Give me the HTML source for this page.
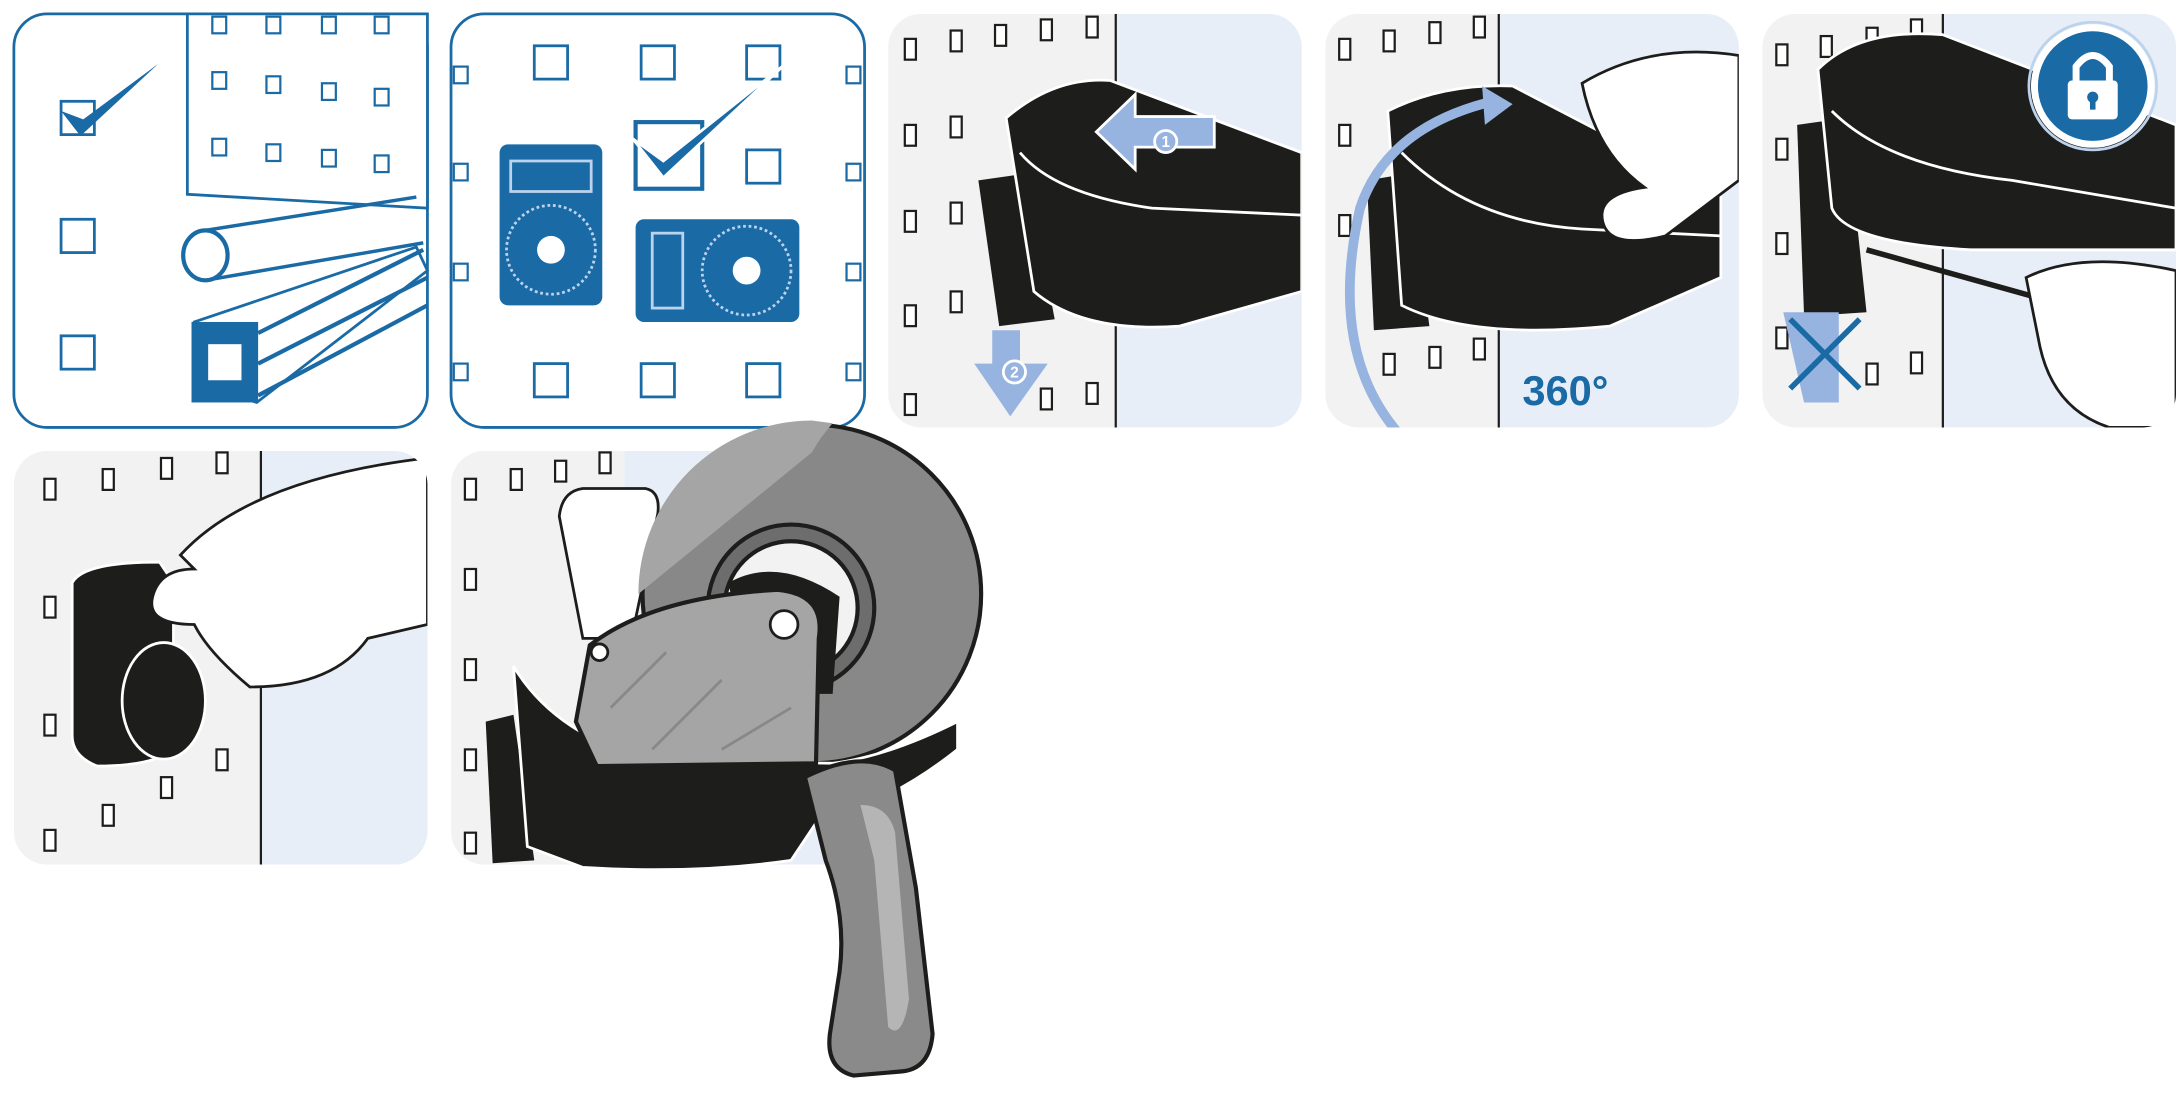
<!DOCTYPE html>
<html><head><meta charset="utf-8"><style>
html,body{margin:0;padding:0;background:#fff;width:2176px;height:1094px;overflow:hidden}
svg{display:block}
text{font-family:"Liberation Sans",sans-serif}
</style></head><body>
<svg width="2176" height="1094" viewBox="0 0 1568 788.3" preserveAspectRatio="none" xmlns="http://www.w3.org/2000/svg">
<defs>
<g id="hole"><rect x="0" y="0" width="8" height="15" fill="#fff" stroke="#1d1d1b" stroke-width="1.6"/></g>
<g id="bhole"><rect x="0" y="0" width="10" height="12" fill="#fff" stroke="#1a6aa6" stroke-width="1.6"/></g>
<g id="sq"><rect x="0" y="0" width="24" height="24" fill="#fff" stroke="#1a6aa6" stroke-width="2"/></g>
</defs>

<!-- Panel 1 -->
<rect x="10" y="10" width="298" height="298" rx="24" fill="#fff" stroke="#1a6aa6" stroke-width="2"/>
<path d="M135 10 L308 10 L308 150 L135 140 Z" fill="#fff" stroke="#1a6aa6" stroke-width="2"/>
<g>
<use href="#bhole" x="153" y="12"/><use href="#bhole" x="192" y="12"/><use href="#bhole" x="232" y="12"/><use href="#bhole" x="270" y="12"/>
<use href="#bhole" x="153" y="52"/><use href="#bhole" x="192" y="55"/><use href="#bhole" x="232" y="60"/><use href="#bhole" x="270" y="64"/>
<use href="#bhole" x="153" y="100"/><use href="#bhole" x="192" y="104"/><use href="#bhole" x="232" y="108"/><use href="#bhole" x="270" y="112"/>
</g>
<use href="#sq" x="44" y="73"/><use href="#sq" x="44" y="158"/><use href="#sq" x="44" y="242"/>
<path d="M44 80 L58 98 L114 46 L60 86 Z" fill="#1a6aa6"/>
<ellipse cx="148" cy="184" rx="16" ry="18" fill="#fff" stroke="#1a6aa6" stroke-width="3"/>
<path d="M148 166 L300 142 M148 202 L305 175" stroke="#1a6aa6" stroke-width="2.5" fill="none"/>
<path d="M140 232 L300 178 L308 195 L185 290 L140 275 Z" fill="#fff" stroke="#1a6aa6" stroke-width="2"/>
<rect x="138" y="232" width="48" height="58" fill="#1a6aa6"/>
<rect x="150" y="248" width="24" height="26" fill="#fff"/>
<path d="M186 240 L305 180 M186 262 L308 200 M186 285 L308 220" stroke="#1a6aa6" stroke-width="3"/>

<!-- Panel 2 -->
<rect x="325" y="10" width="298" height="298" rx="24" fill="#fff" stroke="#1a6aa6" stroke-width="2"/>
<use href="#sq" x="385" y="33"/><use href="#sq" x="462" y="33"/><use href="#sq" x="538" y="33"/>
<use href="#sq" x="538" y="108"/>
<use href="#sq" x="385" y="262"/><use href="#sq" x="462" y="262"/><use href="#sq" x="538" y="262"/>
<use href="#bhole" x="327" y="48"/><use href="#bhole" x="327" y="118"/><use href="#bhole" x="327" y="190"/><use href="#bhole" x="327" y="262"/>
<use href="#bhole" x="610" y="48"/><use href="#bhole" x="610" y="118"/><use href="#bhole" x="610" y="190"/><use href="#bhole" x="610" y="262"/>
<rect x="360" y="104" width="74" height="116" rx="6" fill="#1a6aa6"/>
<circle cx="397" cy="180" r="32" fill="#1a6aa6" stroke="#bcd3ee" stroke-width="2" stroke-dasharray="2 2"/>
<circle cx="397" cy="180" r="10" fill="#fff"/>
<rect x="368" y="116" width="58" height="22" fill="none" stroke="#bcd3ee" stroke-width="2"/>
<rect x="458" y="158" width="118" height="74" rx="6" fill="#1a6aa6"/>
<circle cx="538" cy="195" r="32" fill="#1a6aa6" stroke="#bcd3ee" stroke-width="2" stroke-dasharray="2 2"/>
<circle cx="538" cy="195" r="10" fill="#fff"/>
<rect x="470" y="168" width="22" height="54" fill="none" stroke="#bcd3ee" stroke-width="2"/>
<rect x="458" y="88" width="48" height="48" fill="#fff" stroke="#1a6aa6" stroke-width="3"/>
<path d="M456 100 L478 128 L566 46 L478 116 Z" fill="#1a6aa6" stroke="#fff" stroke-width="2"/>

<!-- Panel 3 -->
<clipPath id="c3"><rect x="640" y="10" width="298" height="298" rx="24"/></clipPath>
<g clip-path="url(#c3)">
<rect x="640" y="10" width="298" height="298" fill="#f2f2f2"/>
<rect x="804" y="10" width="140" height="298" fill="#e8eef8"/>
<line x1="804" y1="10" x2="804" y2="308" stroke="#1d1d1b" stroke-width="1.6"/>
<use href="#hole" x="652" y="28"/><use href="#hole" x="685" y="22"/><use href="#hole" x="717" y="18"/><use href="#hole" x="750" y="14"/><use href="#hole" x="783" y="12"/>
<use href="#hole" x="652" y="90"/><use href="#hole" x="685" y="84"/><use href="#hole" x="652" y="152"/><use href="#hole" x="685" y="146"/>
<use href="#hole" x="652" y="220"/><use href="#hole" x="685" y="210"/><use href="#hole" x="652" y="284"/><use href="#hole" x="750" y="280"/><use href="#hole" x="783" y="276"/>
<path d="M705 130 L740 125 L760 230 L720 235 Z" fill="#1d1d1b"/>
<path d="M725 85 Q760 55 800 58 L938 110 L938 210 L850 235 Q780 240 745 210 Z" fill="#1d1d1b" stroke="#fff" stroke-width="2"/>
<path d="M735 110 Q760 140 830 150 L938 155" stroke="#fff" stroke-width="2" fill="none"/>
<path d="M790 95 L818 68 L818 84 L875 84 L875 106 L818 106 L818 122 Z" fill="#97b4e0" stroke="#fff" stroke-width="2"/>
<circle cx="840" cy="102" r="8" fill="#97b4e0" stroke="#fff" stroke-width="2"/><text x="840" y="106" font-size="11" font-weight="bold" fill="#fff" text-anchor="middle">1</text>
<path d="M715 238 L735 238 L735 262 L755 262 L728 300 L702 262 L715 262 Z" fill="#97b4e0"/>
<circle cx="731" cy="268" r="8" fill="#97b4e0" stroke="#fff" stroke-width="2"/><text x="731" y="272" font-size="11" font-weight="bold" fill="#fff" text-anchor="middle">2</text>
</g>

<!-- Panel 4 -->
<clipPath id="c4"><rect x="955" y="10" width="298" height="298" rx="24"/></clipPath>
<g clip-path="url(#c4)">
<rect x="955" y="10" width="298" height="298" fill="#f2f2f2"/>
<rect x="1080" y="10" width="180" height="298" fill="#e8eef8"/>
<line x1="1080" y1="10" x2="1080" y2="308" stroke="#1d1d1b" stroke-width="1.6"/>
<use href="#hole" x="965" y="28"/><use href="#hole" x="997" y="22"/><use href="#hole" x="1030" y="16"/><use href="#hole" x="1062" y="12"/>
<use href="#hole" x="965" y="90"/><use href="#hole" x="965" y="155"/><use href="#hole" x="997" y="255"/><use href="#hole" x="1030" y="250"/><use href="#hole" x="1062" y="244"/>
<path d="M985 130 L1015 125 L1030 235 L990 238 Z" fill="#1d1d1b"/>
<path d="M1000 80 Q1040 60 1090 62 L1240 140 L1240 200 L1160 235 Q1060 245 1010 220 Z" fill="#1d1d1b" stroke="#fff" stroke-width="2"/>
<path d="M1010 110 Q1060 160 1140 165 L1240 170" stroke="#fff" stroke-width="2" fill="none"/>
<path d="M1140 60 Q1190 30 1253 40 L1253 130 L1200 170 Q1160 180 1155 160 Q1150 140 1185 135 Q1150 110 1140 60 Z" fill="#fff" stroke="#1d1d1b" stroke-width="2"/>
<path d="M1015 320 Q955 260 980 150 Q1000 90 1080 72" stroke="#97b4e0" stroke-width="7" fill="none"/>
<path d="M1068 62 L1090 75 L1070 90 Z" fill="#97b4e0"/>
<path d="M1005 314 L1025 325 L1008 332 Z" fill="#97b4e0"/>
<text x="1097" y="292" font-size="30" font-weight="bold" fill="#1a6aa6">360°</text>
</g>

<!-- Panel 5 -->
<clipPath id="c5"><rect x="1270" y="10" width="298" height="298" rx="24"/></clipPath>
<g clip-path="url(#c5)">
<rect x="1270" y="10" width="298" height="298" fill="#f2f2f2"/>
<rect x="1400" y="10" width="170" height="298" fill="#e8eef8"/>
<line x1="1400" y1="10" x2="1400" y2="308" stroke="#1d1d1b" stroke-width="1.6"/>
<use href="#hole" x="1280" y="32"/><use href="#hole" x="1312" y="26"/><use href="#hole" x="1345" y="20"/><use href="#hole" x="1377" y="14"/>
<use href="#hole" x="1280" y="100"/><use href="#hole" x="1280" y="168"/><use href="#hole" x="1280" y="236"/><use href="#hole" x="1345" y="262"/><use href="#hole" x="1377" y="254"/>
<path d="M1295 90 L1330 85 L1345 225 L1300 228 Z" fill="#1d1d1b"/>
<path d="M1310 50 Q1340 20 1400 25 L1568 90 L1568 180 L1420 180 Q1330 175 1320 150 Z" fill="#1d1d1b" stroke="#fff" stroke-width="2"/>
<path d="M1320 80 Q1360 120 1450 130 L1568 150" stroke="#fff" stroke-width="2" fill="none"/>
<path d="M1345 180 L1470 215" stroke="#1d1d1b" stroke-width="4"/>
<path d="M1460 200 Q1500 180 1568 195 L1568 308 L1520 308 Q1480 295 1470 250 Z" fill="#fff" stroke="#1d1d1b" stroke-width="2"/>
<path d="M1285 225 L1325 225 L1325 290 L1300 290 Z" fill="#97b4e0"/>
<path d="M1290 230 L1340 280 M1340 230 L1290 280" stroke="#1a6aa6" stroke-width="4"/>
<circle cx="1508" cy="62" r="42" fill="#1a6aa6" stroke="#fff" stroke-width="5"/>
<circle cx="1508" cy="62" r="46" fill="none" stroke="#bcd3ee" stroke-width="2"/>
<rect x="1490" y="58" width="36" height="28" rx="3" fill="#fff"/>
<path d="M1496 58 L1496 48 Q1508 32 1520 48 L1520 58" stroke="#fff" stroke-width="5" fill="none"/>
<circle cx="1508" cy="70" r="4" fill="#1a6aa6"/><rect x="1506" y="70" width="4" height="9" fill="#1a6aa6"/>
</g>

<!-- Panel 6 -->
<clipPath id="c6"><rect x="10" y="325" width="298" height="298" rx="24"/></clipPath>
<g clip-path="url(#c6)">
<rect x="10" y="325" width="298" height="298" fill="#f2f2f2"/>
<rect x="188" y="325" width="130" height="298" fill="#e8eef8"/>
<line x1="188" y1="325" x2="188" y2="623" stroke="#1d1d1b" stroke-width="1.6"/>
<use href="#hole" x="32" y="345"/><use href="#hole" x="74" y="338"/><use href="#hole" x="116" y="330"/><use href="#hole" x="156" y="326"/>
<use href="#hole" x="32" y="430"/><use href="#hole" x="32" y="515"/><use href="#hole" x="32" y="598"/><use href="#hole" x="74" y="580"/><use href="#hole" x="116" y="560"/><use href="#hole" x="156" y="540"/>
<path d="M52 420 Q60 405 115 405 L125 420 L125 540 Q110 552 70 552 Q52 545 52 530 Z" fill="#1d1d1b" stroke="#fff" stroke-width="2"/>
<ellipse cx="118" cy="505" rx="30" ry="42" fill="#1d1d1b" stroke="#fff" stroke-width="2"/>
<path d="M130 400 Q180 345 308 330 L308 450 L265 460 Q240 495 180 495 Q150 470 140 450 Q105 450 110 430 Q115 410 140 410 Z" fill="#fff" stroke="#1d1d1b" stroke-width="2"/>
</g>

<!-- Panel 7 -->
<clipPath id="c7"><rect x="325" y="325" width="298" height="298" rx="24"/></clipPath>
<g clip-path="url(#c7)">
<rect x="325" y="325" width="298" height="298" fill="#f2f2f2"/>
<rect x="450" y="325" width="180" height="298" fill="#e8eef8"/>
<use href="#hole" x="335" y="345"/><use href="#hole" x="368" y="338"/><use href="#hole" x="400" y="332"/><use href="#hole" x="432" y="326"/>
<use href="#hole" x="335" y="410"/><use href="#hole" x="335" y="475"/><use href="#hole" x="335" y="540"/><use href="#hole" x="335" y="600"/>
</g>
<path d="M403 372 Q405 354 420 352 L465 352 Q476 354 474 370 L455 460 L420 460 Z" fill="#fff" stroke="#1d1d1b" stroke-width="2"/>
<circle cx="585" cy="428" r="122" fill="#888" stroke="#1d1d1b" stroke-width="3"/>
<path d="M460 428 A125 125 0 0 1 585 303 L600 305 A122 122 0 0 0 585 326" fill="#a5a5a5"/>
<circle cx="570" cy="438" r="60" fill="#6d6d6d" stroke="#1d1d1b" stroke-width="3"/>
<circle cx="570" cy="438" r="48" fill="#f2f2f2" stroke="#1d1d1b" stroke-width="3"/>
<path d="M525 420 Q560 400 605 430 L600 500 L540 500 Z" fill="#1d1d1b"/>
<path d="M350 520 L370 515 L385 620 L355 622 Z" fill="#1d1d1b"/>
<path d="M370 480 Q400 530 470 548 L600 550 Q640 545 690 520 L690 540 Q640 580 590 590 L570 620 Q500 630 420 625 L380 610 Z" fill="#1d1d1b" stroke="#fff" stroke-width="2"/>
<path d="M415 520 L425 465 Q470 430 560 425 Q595 428 590 460 L588 550 L430 552 Z" fill="#a5a5a5" stroke="#1d1d1b" stroke-width="3"/>
<circle cx="432" cy="470" r="6" fill="#fff" stroke="#1d1d1b" stroke-width="2"/>
<circle cx="565" cy="450" r="10" fill="#fff" stroke="#1d1d1b" stroke-width="2"/>
<path d="M440 510 L480 470 M470 540 L520 490 M520 540 L570 510" stroke="#888" stroke-width="2"/>
<path d="M580 560 Q620 540 645 555 L660 640 L672 745 Q670 770 650 772 L615 775 Q595 770 598 745 L605 700 Q610 660 595 620 Z" fill="#8a8a8a" stroke="#1d1d1b" stroke-width="3"/>
<path d="M620 580 Q640 580 645 600 L655 720 Q650 750 640 740 L630 620 Z" fill="#b5b5b5"/>
</svg>
</body></html>
